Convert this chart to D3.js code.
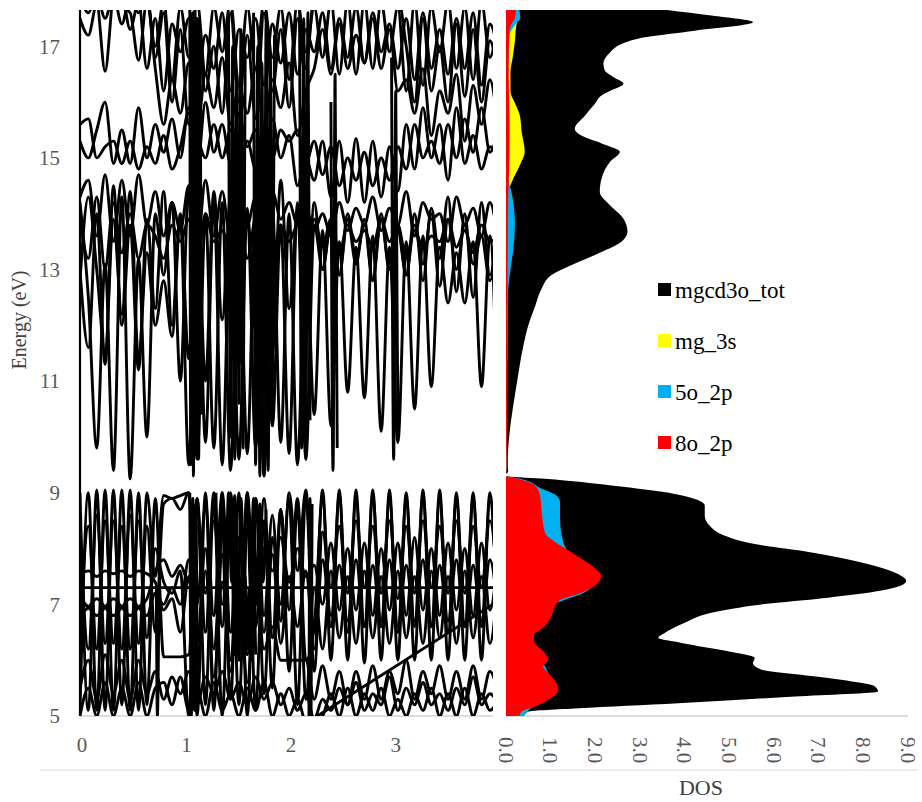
<!DOCTYPE html>
<html>
<head>
<meta charset="utf-8">
<script src="https://cdn.jsdelivr.net/npm/d3@7"></script>
</head>
<body style="margin:0;background:#fff">
<svg id="chart" width="922" height="802" font-family="Liberation Serif, Times New Roman, serif" style="display:block"></svg>
<script>
// ---- band structure: energies (eV) sampled on a common k path ----
const kGrid = [0,0.08,0.16,0.24,0.32,0.4,0.48,0.56,0.64,0.72,0.8,0.88,0.96,1.04,1.12,1.2,1.28,1.36,1.44,1.52,1.6,1.68,1.76,1.84,1.92,2,2.08,2.16,2.24,2.32,2.4,2.48,2.56,2.64,2.72,2.8,2.88,2.96,3.04,3.12,3.2,3.28,3.36,3.44,3.52,3.6,3.68,3.76,3.84,3.92,4];

// valence-side bands (5 - 9.1 eV)
const lowerBands = [
  [9.0,5.1,9.05,5.1,9.05,5.2,9.05,5.1,9.0,7.5, 8.95,8.9,8.95,9.0,7.0,8.8,6.8,9.0,6.5,8.9, 6.4,8.9,6.8,8.6,6.7,9.0,7.6,9.05,6.5,9.05, 6.0,9.05,6.0,9.05,5.95,9.05,6.0,9.05,6.0,9.0, 6.0,9.05,6.0,9.05,6.0,9.0,6.0,9.0,6.0,9.0, 6.2],
  [5.1,9.0,5.1,9.05,5.1,9.05,5.1,9.0,5.2,8.9, 6.06,6.06,6.06,6.1,8.9,6.5,9.0,6.6,9.0,6.3, 9.0,6.6,8.9,6.4,8.7,6.9,8.9,6.0,6.6,8.9, 6.6,8.95,6.5,8.9,6.6,8.95,6.6,8.9,6.5,8.9, 6.6,8.95,6.6,8.9,6.5,8.9,6.6,8.9,6.6,8.85, 6.6],
  [7.1,6.95,6.8,6.95,7.1,6.95,6.8,6.95,7.1,7.6, 7.8,7.5,7.7,7.4,8.4,7.2,8.5,7.0,8.3,7.1, 8.6,7.2,8.0,7.6,8.2,7.4,8.0,7.5,7.7,7.0, 8.1,6.9,8.0,6.9,8.1,6.8,8.0,6.9,8.1,6.8, 8.2,6.9,8.0,6.8,8.1,6.9,8.0,6.8,8.1,6.9, 7.9],
  [6.8,6.95,7.1,6.95,6.8,6.95,7.1,6.95,6.8,7.2, 7.0,7.3,7.0,7.8,6.3,8.0,6.2,7.9,6.0,8.2, 6.1,7.8,6.5,7.9,6.3,7.5,6.6,7.6,6.2,7.8, 6.8,7.7,6.7,7.8,6.6,7.7,6.7,7.8,6.6,7.7, 6.7,7.8,6.6,7.7,6.7,7.8,6.6,7.7,6.7,7.8, 6.8],
  [7.55,7.6,7.5,7.6,7.55,7.6,7.5,7.6,7.55,7.4, 6.9,7.1,6.5,7.5,5.9,7.6,5.7,7.4,5.8,7.5, 5.6,7.4,6.2,6.6,6.0,6.0,6.0,6.0,5.3,5.9, 5.3,5.8,5.2,5.8,5.3,5.9,5.3,5.8,5.4,6.0, 5.3,5.8,5.4,5.9,5.3,5.8,5.3,5.9,5.3,5.8, 5.4],
  [5.5,6.0,5.3,6.1,5.4,6.0,5.3,6.0,5.4,5.8, 5.3,5.7,5.4,5.8,5.2,5.7,5.4,5.8,5.3,5.6, 5.2,5.7,5.3,5.6,5.2,5.5,5.1,5.4,4.95,5.3, 5.1,5.5,5.2,5.6,5.1,5.4,5.2,5.7,5.1,5.5, 5.2,5.6,5.2,5.4,5.1,5.5,5.2,5.7,5.2,5.4, 5.2],
  [5.0,5.5,5.0,5.6,5.0,5.5,5.0,5.6,5.0,5.5, 5.6,5.2,5.7,5.1,5.5,5.0,5.6,5.1,5.4,5.0, 5.5,5.1,5.6,5.0,5.4,5.0,5.3,4.9,4.9,5.0, 5.4,5.0,5.5,5.0,5.4,5.1,5.5,5.0,5.3,5.0, 5.4,5.1,5.5,5.0,5.4,5.0,5.5,5.0,5.4,5.1, 5.3],
  [8.5,6.2,8.6,6.3,8.5,6.2,8.6,6.3,8.4,6.5, 8.8,8.9,8.7,9.0,5.0,9.0,5.1,8.9,5.3,9.0, 5.0,8.9,5.4,8.2,7.0,8.9,5.2,9.0,5.8,8.3, 7.3,8.4,7.2,8.5,7.3,8.4,7.2,8.5,7.1,8.4, 7.2,8.5,7.3,8.4,7.2,8.5,7.2,8.4,7.3,8.5, 7.2],
  [6.3,8.4,6.2,8.5,6.3,8.4,6.2,8.5,6.4,8.0, 7.4,7.2,7.6,5.0,8.9,5.2,8.9,5.0,8.8,5.2, 8.9,5.1,8.5,5.5,8.7,5.8,8.8,5.3,7.3,6.2, 7.6,6.4,7.5,6.3,7.6,6.4,7.5,6.3,7.6,6.4, 7.5,6.3,7.6,6.4,7.5,6.3,7.6,6.4,7.5,6.3, 7.5]
];

// conduction-side bands (9.2 - 17.7 eV)
const upperBands = [
  [17.5,17.2,17.75,16.55,17.8,17.7,17.6,16.75,17.8,17.0, 17.8,16.4,17.7,16.8,17.8,16.5,17.7,16.9,17.8,16.3, 17.7,16.6,17.8,16.8,17.7,16.4,17.8,16.9,17.7,16.8, 17.8,16.5,17.8,16.5,17.8,16.6,17.8,16.9,17.7,16.2, 17.8,16.3,17.7,16.9,17.8,16.6,17.7,16.4,17.8,16.8, 17.6],
  [17.8,17.9,17.8,17.9,17.85,17.9,17.3,17.8,16.6,17.5, 16.2,17.4,16.9,17.5,16.4,17.2,16.6,17.6,16.2,17.3, 16.8,17.5,16.3,17.4,16.7,17.6,16.5,17.3,16.9,17.6, 16.6,17.5,16.8,17.7,16.7,17.6,16.9,17.4,16.6,17.5, 16.4,17.6,16.6,17.3,16.5,17.5,16.6,17.6,16.3,17.4, 16.9],
  [15.3,15.0,15.5,16.0,14.9,15.5,14.9,15.9,15.0,15.6, 15.1,15.7,15.0,15.9,14.8,16.0,15.1,15.6,14.9,15.8, 15.2,15.5,14.9,15.7,15.0,15.4,14.5,15.0,14.6,15.3, 14.3,15.3,14.2,15.35,14.2,15.3,14.3,15.2,14.4,15.6, 14.8,15.9,15.0,15.6,14.6,15.9,14.9,15.4,14.8,15.2, 15.0],
  [15.6,15.7,15.0,15.2,15.3,14.9,15.3,14.8,15.2,14.9, 15.4,14.8,15.2,15.8,15.4,15.0,15.6,15.0,15.5,14.8, 15.3,14.8,15.4,15.0,15.5,15.3,15.5,14.9,15.3,14.7, 15.2,14.5,15.0,14.6,15.1,14.5,15.0,14.6,15.2,14.8, 15.6,15.0,15.3,14.9,15.6,15.0,15.7,15.1,15.9,15.1, 15.5],
  [14.3,14.6,13.6,14.7,13.5,14.6,13.6,14.7,13.8,14.4, 13.6,14.2,13.7,14.5,13.4,14.6,13.6,14.4,13.5,14.5, 13.8,14.3,13.6,14.4,13.9,14.2,13.8,14.1,13.7,14.0, 13.6,14.2,13.7,14.1,13.8,14.3,13.7,14.1,13.8,14.4, 13.6,14.2,13.9,14.0,13.5,14.3,13.8,14.1,13.6,14.2, 13.5],
  [13.9,13.2,14.3,13.0,14.2,13.3,14.0,13.2,13.8,13.6, 13.2,13.8,13.5,13.9,13.1,14.0,13.5,13.7,13.3,14.0, 13.2,13.9,13.6,13.2,13.8,13.5,13.8,13.3,13.9,13.4, 13.9,13.3,13.8,13.5,13.7,13.4,13.9,13.5,13.8,13.2, 13.7,13.4,13.6,13.5,13.9,13.4,13.7,13.3,13.8,13.5, 13.6],
  [14.2,12.5,9.8,13.1,9.4,14.3,9.25,13.2,10.0,14.0, 12.9,14.2,11.0,14.5,9.6,14.0,9.8,14.2,9.4,13.8, 9.7,14.3,9.3,14.1,9.9,14.0,9.5,13.6,10.4,13.7, 10.2,13.5,10.8,13.4,10.7,13.6,10.1,13.4,9.9,13.5, 10.5,13.6,10.9,13.4,12.4,13.3,12.4,13.5,10.9,13.6, 9.9],
  [12.8,14.3,13.0,11.5,13.9,12.2,14.4,11.4,13.3,12.0, 12.8,11.8,13.9,9.5,14.3,9.9,14.2,9.5,13.9,9.6, 14.1,9.8,13.6,10.2,13.8,9.7,14.2,9.6,13.8,13.0, 13.9,12.9,14.0,13.2,13.8,12.8,13.9,13.0,13.7,12.9, 13.8,13.1,14.0,12.7,13.9,13.0,13.8,13.1,13.6,12.8, 13.7],
  [13.0,11.6,14.0,11.3,14.5,12.0,13.8,11.2,13.9,12.3, 14.4,12.0,14.0,11.4,14.2,11.0,14.4,12.1,14.3,11.3, 14.0,11.9,14.2,11.5,14.6,12.3,14.0,11.8,14.2,13.0, 13.8,12.9,13.9,13.1,13.9,12.8,14.0,13.0,13.8,12.9, 14.0,12.8,14.1,13.2,14.3,12.6,14.0,12.5,14.2,12.9, 14.0],
  [17.9,17.6,17.9,17.5,17.9,17.4,17.9,17.6,17.9,16.6, 15.6,16.4,15.8,16.7,15.5,16.5,15.9,16.8,15.6,16.3, 15.8,16.6,15.5,16.4,15.9,16.7,15.4,16.2,16.6,17.3, 16.5,17.4,16.6,17.2,16.7,17.5,16.6,17.3,16.2,16.4, 15.8,16.6,15.4,16.2,15.8,16.5,15.3,16.3,15.6,16.4, 15.5],
  [17.9,17.9,17.9,17.9,17.9,17.9,17.9,17.9,17.9,16.8, 17.6,16.0,17.3,15.6,17.5,16.2,17.0,15.8,17.6,16.0, 17.2,15.7,17.6,16.2,17.3,15.9,17.5,16.6,17.9,17.9, 17.9,17.9,17.9,17.9,17.9,17.9,17.9,17.9,17.9,17.0, 16.0,17.5,16.2,17.0,16.0,17.4,16.1,17.3,16.0,17.1, 16.4]
];

// short, steep band segments given as k, E, k, E, ...
const steepSegments = [
  [0, 7.3, 3.95, 7.3],
  [2.27, 5.0, 3.95, 7.0],
  [0.73, 7.3, 0.74, 5.0, 0.755, 7.2],
  [1.05, 9.0, 1.065, 5.0, 1.08, 8.9, 1.095, 5.1, 1.11, 8.8, 1.125, 5.2],
  [1.30, 9.0, 1.33, 7.2, 1.36, 9.0, 1.39, 7.0, 1.42, 9.0, 1.45, 7.4, 1.48, 8.95, 1.51, 6.9, 1.54, 8.9, 1.57, 7.2, 1.60, 9.0, 1.63, 7.3, 1.66, 8.9, 1.69, 7.0, 1.72, 8.8, 1.75, 7.4, 1.78, 8.7],
  [1.46, 7.6, 1.48, 6.1, 1.50, 7.5, 1.52, 6.0, 1.54, 7.4, 1.56, 6.1, 1.58, 7.5, 1.60, 6.2, 1.62, 7.3, 1.64, 6.0, 1.66, 7.4, 1.68, 6.1],
  [2.19, 5.0, 2.2, 8.9, 2.21, 5.0, 2.22, 8.8],
  [1.05, 17.7, 1.06, 9.5, 1.075, 17.6, 1.085, 9.3, 1.10, 17.7, 1.11, 10.0, 1.125, 17.5, 1.135, 9.6, 1.15, 17.2, 1.16, 10.4],
  [1.42, 17.5, 1.44, 10.0, 1.46, 17.0, 1.48, 9.6, 1.50, 16.5, 1.52, 10.6, 1.54, 17.3, 1.56, 9.8, 1.58, 16.8],
  [1.66, 17.6, 1.68, 9.5, 1.70, 17.0, 1.72, 9.3, 1.74, 16.7, 1.76, 9.7, 1.78, 17.4, 1.80, 9.4, 1.82, 16.9, 1.84, 10.2, 1.86, 17.2],
  [2.10, 17.7, 2.12, 9.8, 2.14, 17.5, 2.16, 9.6, 2.18, 17.6, 2.20, 10.3],
  [2.40, 16.0, 2.42, 9.4, 2.44, 16.5, 2.46, 9.8],
  [2.98, 16.8, 3.00, 9.6, 3.02, 16.2, 3.04, 10.2]
];

// ---- density of states: [energy (eV), states/eV] ----
const dosTotal = [[17.65,3.6],[17.55,4.6],[17.43,5.53],[17.28,4.23],[17.16,3.11],[17.04,2.59],[16.89,2.33],[16.69,2.18],[16.57,2.21],[16.45,2.40],[16.33,2.63],[16.21,2.36],[16.12,2.14],[15.97,1.99],[15.76,1.77],[15.52,1.54],[15.40,1.69],[15.26,2.14],[15.11,2.55],[14.93,2.33],[14.63,2.14],[14.39,2.10],[14.15,2.33],[13.91,2.63],[13.68,2.72],[13.50,2.59],[13.26,1.99],[13.08,1.47],[12.90,1.02],[12.66,0.80],[12.36,0.66],[12.0,0.5],[11.6,0.38],[11.0,0.25],[10.5,0.15],[10.0,0.07],[9.6,0.04],[9.45,0.04],[9.38,0.05],[9.33,0.0],[9.30,0.0],[9.25,0.87],[9.13,2.36],[8.98,3.78],[8.89,4.23],[8.77,4.45],[8.59,4.45],[8.41,4.56],[8.23,4.90],[8.08,5.57],[7.93,6.84],[7.75,7.96],[7.57,8.70],[7.42,8.96],[7.27,8.55],[7.12,7.21],[7.00,5.72],[6.85,4.60],[6.67,4.00],[6.49,3.56],[6.40,3.41],[6.31,3.93],[6.16,4.97],[6.04,5.57],[5.95,5.53],[5.83,5.72],[5.68,7.21],[5.53,8.26],[5.44,8.33],[5.35,6.47],[5.23,3.85],[5.14,1.62],[5.08,0.50],[5.0,0.4]];
const dosMg3s = [[17.65,0.2],[17.45,0.25],[17.37,0.23],[17.1,0.2],[16.8,0.15],[16.54,0.1],[16.2,0.1],[15.95,0.22],[15.76,0.31],[15.47,0.35],[15.11,0.42],[14.87,0.31],[14.57,0.13],[14.35,0.04],[13.5,0.02],[9.45,0.01],[9.33,0],[9.25,0],[5.0,0]];
const dosO5_2p = [[17.65,0.3],[17.5,0.32],[17.4,0.22],[17.2,0.08],[16.5,0.05],[15.5,0.05],[14.6,0.06],[14.4,0.12],[14.1,0.18],[13.8,0.2],[13.4,0.17],[13.0,0.1],[12.6,0.05],[12.0,0.04],[11.0,0.03],[10.0,0.02],[9.45,0.01],[9.33,0],[9.30,0],[9.25,0.33],[9.07,0.80],[8.95,1.13],[8.83,1.21],[8.53,1.21],[8.23,1.25],[7.96,1.38],[7.69,1.8],[7.51,2.0],[7.36,1.95],[7.21,1.75],[7.09,1.35],[6.97,1.0],[6.6,0.7],[6.3,0.6],[6.0,0.8],[5.6,1.0],[5.3,0.9],[5.1,0.5],[5.0,0.4]];
const dosO8_2p = [[17.65,0.22],[17.5,0.2],[17.4,0.12],[17.2,0.07],[16.5,0.06],[15.5,0.08],[14.8,0.07],[14.3,0.05],[13.5,0.04],[12.0,0.03],[10.0,0.02],[9.45,0.01],[9.33,0],[9.30,0],[9.25,0.27],[9.13,0.65],[8.95,0.76],[8.65,0.80],[8.29,0.87],[8.14,1.06],[7.93,1.47],[7.69,1.92],[7.51,2.13],[7.36,2.03],[7.21,1.69],[7.09,1.25],[6.97,1.10],[6.79,1.02],[6.61,0.87],[6.43,0.61],[6.31,0.65],[6.13,0.87],[6.01,0.95],[5.89,0.83],[5.77,0.95],[5.59,1.13],[5.47,1.17],[5.29,0.95],[5.17,0.65],[5.08,0.35],[5.0,0.3]];

const seriesNames = ["mgcd3o_tot", "mg_3s", "5o_2p", "8o_2p"];
const energyTicks = [5, 7, 9, 11, 13, 15, 17];
const kTicks = [0, 1, 2, 3];
const dosTicks = [0, 1, 2, 3, 4, 5, 6, 7, 8, 9];

// ---- drawing ----
const seriesColors = ["#000000", "#ffff00", "#00b0f0", "#ff0000"];
const SERIF = '"Liberation Serif", "Times New Roman", serif';
const svg = d3.select("#chart");

const yE = d3.scaleLinear().domain([5, 17.65]).range([716, 10]);
const xK = d3.scaleLinear().domain([0, 3.95]).range([80, 493]);
const xD = d3.scaleLinear().domain([0, 9]).range([506, 908]);

const defs = svg.append("defs");
defs.append("clipPath").attr("id", "bandClip").append("rect")
  .attr("x", xK(0)).attr("y", yE(17.65)).attr("width", xK(3.95) - xK(0)).attr("height", yE(5) - yE(17.65));
defs.append("clipPath").attr("id", "dosClip").append("rect")
  .attr("x", xD(0)).attr("y", yE(17.65)).attr("width", 420).attr("height", yE(5) - yE(17.65));

// bottom separator
svg.append("line").attr("x1", 40).attr("x2", 918).attr("y1", 770).attr("y2", 770)
  .attr("stroke", "#d9d9d9").attr("stroke-width", 1.2);

// baselines
svg.append("line").attr("x1", xK(0)).attr("x2", xK(3.95)).attr("y1", yE(5)).attr("y2", yE(5))
  .attr("stroke", "#d0d0d0").attr("stroke-width", 1.5);
svg.append("line").attr("x1", xD(0)).attr("x2", xD(9)).attr("y1", yE(5)).attr("y2", yE(5))
  .attr("stroke", "#d0d0d0").attr("stroke-width", 1.5);

// band structure
const bandLine = d3.line()
  .x(d => xK(d[0])).y(d => yE(d[1]))
  .curve(d3.curveMonotoneX);

const gridToPoints = vals => vals.slice(0, kGrid.length).map((e, i) => [kGrid[i], e]);
const flatToPoints = arr => d3.range(0, arr.length - 1, 2).map(i => [arr[i], arr[i + 1]]);

const bandData = lowerBands.map(gridToPoints)
  .concat(upperBands.map(gridToPoints))
  .concat(steepSegments.map(flatToPoints));

const bandG = svg.append("g").attr("clip-path", "url(#bandClip)");
bandG.selectAll("path.band").data(bandData).join("path")
  .attr("class", "band")
  .attr("d", bandLine)
  .attr("fill", "none")
  .attr("stroke", "#000")
  .attr("stroke-width", 2.9)
  .attr("stroke-linejoin", "round");

// left energy axis line
svg.append("line").attr("x1", xK(0)).attr("x2", xK(0)).attr("y1", yE(17.65)).attr("y2", yE(5))
  .attr("stroke", "#000").attr("stroke-width", 2.2);

// all text goes in one group with the serif face
const textG = svg.append("g").style("font-family", SERIF);

// energy tick labels
textG.append("g").selectAll("text").data(energyTicks).join("text")
  .attr("x", 60).attr("y", d => yE(d)).attr("dy", "0.35em")
  .attr("text-anchor", "end")
  .style("font-family", SERIF).style("font-size", "21px").attr("fill", "#595959")
  .text(d => d);

// k tick labels
textG.append("g").selectAll("text").data(kTicks).join("text")
  .attr("x", d => xK(d) + 2).attr("y", 752)
  .attr("text-anchor", "middle")
  .style("font-family", SERIF).style("font-size", "21px").attr("fill", "#595959")
  .text(d => d);

// energy axis title
textG.append("text")
  .attr("transform", "translate(26,320) rotate(-90)")
  .attr("text-anchor", "middle")
  .style("font-family", SERIF).style("font-size", "20px").attr("fill", "#404040")
  .text("Energy (eV)");

// DOS areas (total behind, projections in front)
const dosArea = d3.area()
  .y(d => yE(d[0]))
  .x0(xD(0))
  .x1(d => xD(d[1]))
  .curve(d3.curveMonotoneY);

const dosSeries = [dosTotal, dosMg3s, dosO5_2p, dosO8_2p];
const dosG = svg.append("g").attr("clip-path", "url(#dosClip)");
dosG.selectAll("path.dos").data(dosSeries).join("path")
  .attr("class", "dos")
  .attr("d", dosArea)
  .attr("fill", (d, i) => seriesColors[i]);

// DOS tick labels (rotated)
textG.append("g").selectAll("text").data(dosTicks).join("text")
  .attr("transform", d => `translate(${xD(d)},737) rotate(90)`)
  .attr("dy", "0.35em")
  .attr("text-anchor", "start")
  .style("font-family", SERIF).style("font-size", "21px").attr("fill", "#595959")
  .text(d => d3.format(".1f")(d));

textG.append("text")
  .attr("x", 701).attr("y", 795)
  .attr("text-anchor", "middle")
  .style("font-family", SERIF).style("font-size", "22px").attr("fill", "#404040")
  .text("DOS");

// legend
const legend = svg.append("g");
const legendRows = legend.selectAll("g").data(seriesNames).join("g")
  .attr("transform", (d, i) => `translate(658,${290 + i * 51})`);
legendRows.append("rect")
  .attr("x", 0).attr("y", -7).attr("width", 13).attr("height", 13)
  .attr("fill", (d, i) => seriesColors[i]);
legendRows.append("text")
  .attr("x", 17).attr("y", 0).attr("dy", "0.33em")
  .style("font-family", SERIF).style("font-size", "23px").attr("fill", "#000")
  .text(d => d);
</script>
</body>
</html>
